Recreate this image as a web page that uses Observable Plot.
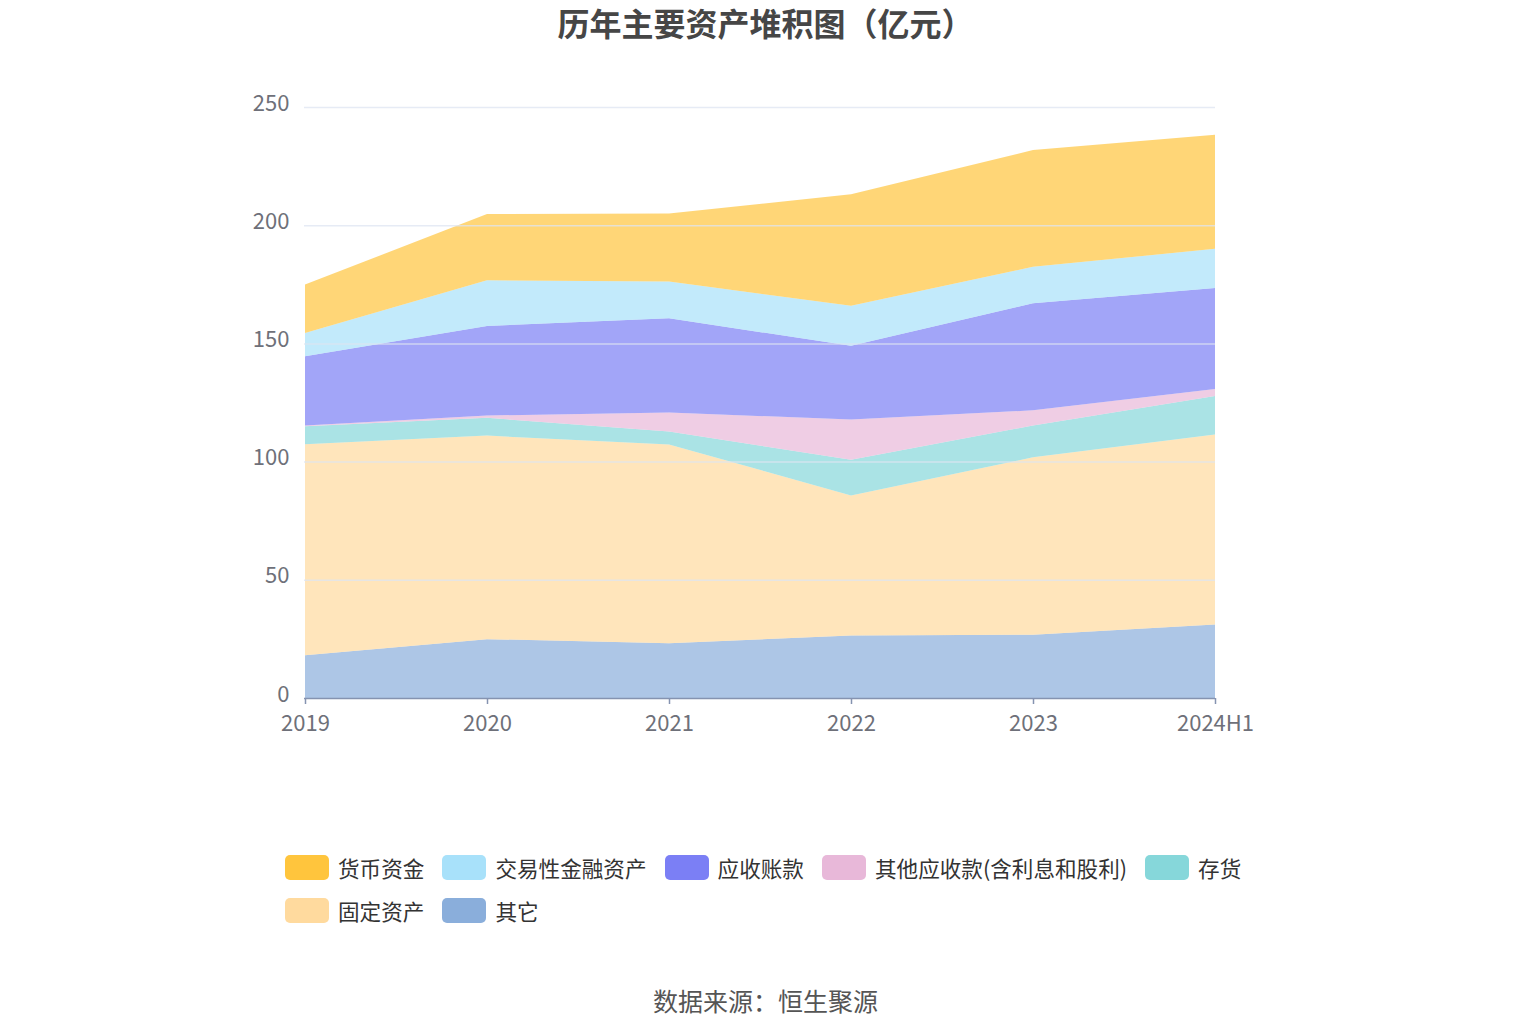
<!DOCTYPE html>
<html><head><meta charset="utf-8">
<script src="https://cdn.jsdelivr.net/npm/d3@7"></script>
<script src="https://cdn.jsdelivr.net/npm/@observablehq/plot@0.6"></script>
<style>
body{margin:0;background:#fff;font-family:"Noto Sans CJK SC","Noto Sans",sans-serif;}
#wrap{position:relative;width:1531px;height:1034px;overflow:hidden;}
#title{position:absolute;top:-1px;left:0;width:1531px;text-align:center;font-size:32px;font-weight:bold;color:#464646;}
#chart{position:absolute;top:50px;left:0;}
#legend{position:absolute;top:854px;left:285px;width:990px;display:flex;flex-wrap:wrap;column-gap:18px;row-gap:17px;}
.item{display:flex;align-items:center;font-size:21.6px;color:#333;height:26px;}
.sw{width:44px;height:25px;border-radius:5px;margin-right:9px;}
#source{position:absolute;top:982px;left:0;width:1531px;text-align:center;font-size:25px;color:#555;}
</style></head>
<body><div id="wrap">
<div id="title">历年主要资产堆积图（亿元）</div>
<div id="chart"></div>
<div id="legend"></div>
<div id="source">数据来源：恒生聚源</div>
</div>
<script>
const years = ["2019","2020","2021","2022","2023","2024H1"];
const yTicks = [0,50,100,150,200,250];
const legendOrder = ["货币资金","交易性金融资产","应收账款","其他应收款(含利息和股利)","存货","固定资产","其它"];
const colors = ["#FFC53D","#A8E1FA","#7B7FF5","#E8B8D9","#86D7DA","#FFDA9E","#8AAEDB"];
// series values (亿元)
const huobi    = [20.5, 28.0, 28.7, 47.2, 49.4, 48.3];
const jiaoyi   = [9.8, 19.3, 15.6, 16.9, 15.4, 16.6];
const yingshou = [29.3, 37.9, 39.8, 31.2, 45.3, 42.7];
const qitaYS   = [0.3, 1.0, 8.1, 17.0, 6.4, 3.0];
const cunhuo   = [7.7, 7.5, 5.5, 15.1, 13.5, 16.2];
const guding   = [89.2, 86.1, 84.0, 59.3, 75.0, 80.4];
const qita     = [18.1, 24.9, 23.2, 26.4, 26.8, 31.1];

const seriesBottomUp = [
  ["其它", qita],
  ["固定资产", guding],
  ["存货", cunhuo],
  ["其他应收款(含利息和股利)", qitaYS],
  ["应收账款", yingshou],
  ["交易性金融资产", jiaoyi],
  ["货币资金", huobi]
];
const data = [];
for (const [name, vals] of seriesBottomUp) {
  years.forEach((y,i)=>data.push({year:y, series:name, value:vals[i]}));
}

const chart = Plot.plot({
  width:1531, height:708,
  marginLeft:304, marginRight:316, marginTop:57, marginBottom:60,
  style:{fontFamily:'"Noto Sans CJK SC","Noto Sans",sans-serif', fontSize:"22px", background:"transparent"},
  x:{type:"point", domain:years, padding:0, label:null},
  y:{domain:[0,250], ticks:yTicks, label:null},
  color:{domain:legendOrder, range:colors},
  marks:[
    Plot.areaY(data, Plot.stackY({order:null}, {x:"year", y:"value", z:"series", fill:"series", fillOpacity:0.7})),
    Plot.gridY(yTicks.filter(d=>d>0), {stroke:"#dde4f2", strokeOpacity:0.75, strokeWidth:1.5}),
    Plot.axisY(yTicks, {tickSize:0, tickPadding:15, dy:-4, fill:"#6e7079", fontSize:22}),
    Plot.ruleY([0], {stroke:"#8593b0", strokeWidth:1.5}),
    Plot.axisX(years, {tickSize:6, stroke:"#8593b0", strokeWidth:1.5, tickPadding:11, fill:"#6e7079", fontSize:22})
  ]
});
document.getElementById("chart").appendChild(chart);

const lg = document.getElementById("legend");
legendOrder.forEach((n,i)=>{
  const it = document.createElement("div"); it.className="item";
  const sw = document.createElement("div"); sw.className="sw"; sw.style.background=colors[i];
  const t = document.createElement("span"); t.textContent=n;
  it.appendChild(sw); it.appendChild(t); lg.appendChild(it);
});
</script>
</body></html>
